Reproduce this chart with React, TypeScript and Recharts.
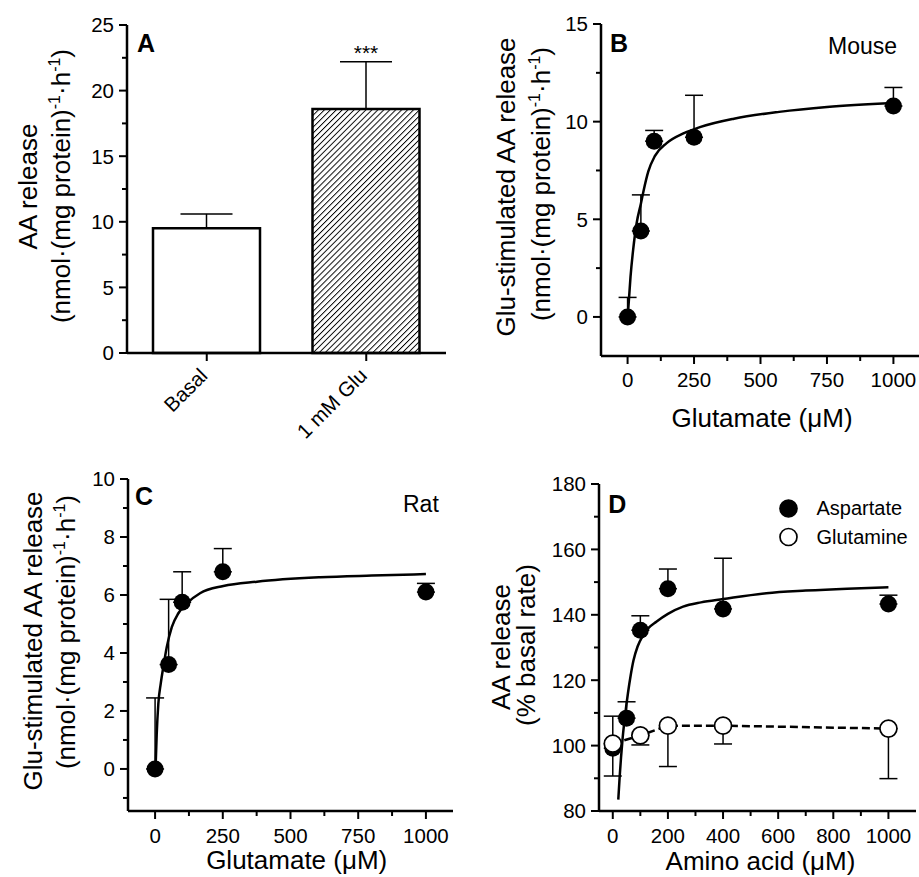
import React from 'react';
import {
  BarChart,
  Bar,
  Cell,
  ComposedChart,
  Line,
  Scatter,
  XAxis,
  YAxis,
  ErrorBar,
  LabelList,
  Legend,
} from 'recharts';

// ---------- A: AA release, basal vs 1 mM glutamate ----------
const groups = ['Basal', '1 mM Glu'];
const releaseMean = [9.5, 18.6];
const releaseSem = [1.1, 3.6];
const releaseSig = ['', '***'];
const releaseTicks = [0, 2.5, 5, 7.5, 10, 12.5, 15, 17.5, 20, 22.5, 25];
const releaseMajor = [0, 5, 10, 15, 20, 25];

// ---------- B: mouse, glutamate dose response ----------
const mouseGlu = [0, 50, 100, 250, 1000];
const mouseRelease = [0, 4.4, 9.0, 9.2, 10.8];
const mouseSem = [1.0, 1.85, 0.55, 2.15, 0.95];
// fitted curve
const mouseFitGlu = [2, 11, 21, 34, 50, 60, 78, 103, 147, 210, 272, 400, 570, 750, 1000];
const mouseFitRelease = [0.3, 2.05, 3.45, 4.8, 5.8, 6.45, 7.45, 8.25, 8.9, 9.4, 9.72, 10.15, 10.5, 10.75, 10.95];
const mouseTicks = [0, 2.5, 5, 7.5, 10, 12.5, 15];
const mouseMajor = [0, 5, 10, 15];

// ---------- C: rat, glutamate dose response ----------
const ratGlu = [0, 50, 100, 250, 1000];
const ratRelease = [0, 3.6, 5.75, 6.8, 6.1];
const ratSem = [2.45, 2.25, 1.05, 0.8, 0.3];
const ratFitGlu = [2, 6, 12, 21, 31, 43, 62, 86, 117, 166, 252, 376, 610, 800, 1000];
const ratFitRelease = [0.1, 1.2, 2.25, 2.95, 3.55, 4.2, 4.9, 5.37, 5.71, 6.06, 6.31, 6.46, 6.61, 6.67, 6.72];
const ratTicks = [-1, 0, 1, 2, 3, 4, 5, 6, 7, 8, 9, 10];
const ratMajor = [0, 2, 4, 6, 8, 10];

const gluTicks = [0, 125, 250, 375, 500, 625, 750, 875, 1000];
const gluMajor = [0, 250, 500, 750, 1000];

// ---------- D: aspartate vs glutamine ----------
const aspConc = [0, 50, 100, 200, 400, 1000];
const aspRelease = [99.2, 108.4, 135.3, 148, 141.8, 143.3];
const aspSem = [9.8, 5.0, 4.4, 6.0, 15.5, 2.7];
const aspFitConc = [20, 25, 30, 36, 45, 55, 65, 75, 90, 109, 130, 158, 200, 255, 320, 400, 557, 700, 850, 1000];
const aspFitRelease = [83.5, 90.5, 96.5, 102.5, 109.5, 116, 121.5, 126, 130.3, 133.6, 136, 137.9, 140.3, 142.5, 143.8, 144.8, 146.6, 147.4, 148, 148.4];
const glnConc = [0, 100, 200, 400, 1000];
const glnRelease = [100.6, 103.1, 106.1, 106.1, 105.2];
const glnSem = [9.9, 2.9, 12.5, 5.6, 15.3];
const aminoTicks = [0, 100, 200, 300, 400, 500, 600, 700, 800, 900, 1000];
const aminoMajor = [0, 200, 400, 600, 800, 1000];
const basalTicks = [80, 90, 100, 110, 120, 130, 140, 150, 160, 170, 180];
const basalMajor = [80, 100, 120, 140, 160, 180];

const FONT = '"Liberation Sans", Arial, Helvetica, sans-serif';
const INK = '#000';
const TICK_FONT = 20.5;
const TITLE_FONT = 26;
const axis = { stroke: INK, strokeWidth: 2.5 };
const barFills = ['#fff', 'url(#hatch)'];

const barData = groups.map((name, i) => ({
  name,
  value: releaseMean[i],
  err: [0, releaseSem[i]],
  sig: releaseSig[i],
}));
const pts = (xs: number[], ys: number[], errs?: number[], down = false) =>
  xs.map((x, i) => ({
    x,
    y: ys[i],
    err: errs ? (down ? [errs[i], 0] : [0, errs[i]]) : undefined,
  }));

const mousePoints = pts(mouseGlu, mouseRelease, mouseSem);
const mouseFit = pts(mouseFitGlu, mouseFitRelease);
const ratPoints = pts(ratGlu, ratRelease, ratSem);
const ratFit = pts(ratFitGlu, ratFitRelease);
const aspPoints = pts(aspConc, aspRelease, aspSem);
const aspFit = pts(aspFitConc, aspFitRelease);
const glnPoints = pts(glnConc, glnRelease, glnSem, true);

function leftTick(axisX: number, majors: number[]) {
  return (p: any) => {
    const v = p.payload.value;
    const major = majors.includes(v);
    return (
      <g>
        <line x1={axisX - (major ? 8 : 5)} x2={axisX} y1={p.y} y2={p.y} stroke={INK} strokeWidth={2} />
        {major && (
          <text x={axisX - 13} y={p.y} dy="0.36em" textAnchor="end" fontSize={TICK_FONT} fontFamily={FONT} fill={INK}>
            {v}
          </text>
        )}
      </g>
    );
  };
}

function bottomTick(axisY: number, majors: number[], labelDy: number) {
  return (p: any) => {
    const v = p.payload.value;
    const major = majors.includes(v);
    return (
      <g>
        <line x1={p.x} x2={p.x} y1={axisY} y2={axisY + (major ? 8 : 5)} stroke={INK} strokeWidth={2} />
        {major && (
          <text x={p.x} y={axisY + labelDy} textAnchor="middle" fontSize={TICK_FONT} fontFamily={FONT} fill={INK}>
            {v}
          </text>
        )}
      </g>
    );
  };
}

function slantTick(axisY: number) {
  return (p: any) => {
    const ax = p.x + 2;
    const ay = axisY + 24;
    return (
      <g>
        <line x1={p.x} x2={p.x} y1={axisY} y2={axisY + 8} stroke={INK} strokeWidth={2} />
        <text x={ax} y={ay} transform={`rotate(-45 ${ax} ${ay})`} textAnchor="end" fontSize={TICK_FONT} fontFamily={FONT} fill={INK}>
          {p.payload.value}
        </text>
      </g>
    );
  };
}

function VTitle({ x, cy, children }: { x: number; cy: number; children: React.ReactNode }) {
  return (
    <text x={x} y={cy} transform={`rotate(-90 ${x} ${cy})`} textAnchor="middle" fontSize={TITLE_FONT} fontFamily={FONT} fill={INK}>
      {children}
    </text>
  );
}

function HTitle({ x, y, children }: { x: number; y: number; children: React.ReactNode }) {
  return (
    <text x={x} y={y} textAnchor="middle" fontSize={TITLE_FONT} fontFamily={FONT} fill={INK}>
      {children}
    </text>
  );
}

const rateUnit = (
  <>
    (nmol·(mg protein)
    <tspan dy={-10} fontSize={16}>-1</tspan>
    <tspan dy={10}>·h</tspan>
    <tspan dy={-10} fontSize={16}>-1</tspan>
    <tspan dy={10}>)</tspan>
  </>
);

const tag = (x: number, y: number, s: string, bold = true, size = 25) => (
  <text x={x} y={y} fontSize={size} fontWeight={bold ? 'bold' : 'normal'} fontFamily={FONT} fill={INK}>
    {s}
  </text>
);

const filledDot = (p: any) => <circle cx={p.cx} cy={p.cy} r={8.5} fill={INK} />;
const openDot = (p: any) => <circle cx={p.cx} cy={p.cy} r={8.5} fill="#fff" stroke={INK} strokeWidth={1.7} />;

function DoseLegend(props: any) {
  // only the two scatter series; the fit/dash lines carry legendType "none"
  const items = (props.payload || []).filter((it: any) => it.type !== 'none');
  return (
    <svg width={136} height={56}>
      {items.map((it: any, i: number) => (
        <g key={it.value}>
          <circle cx={10.5} cy={10.5 + i * 28.5} r={8.5} fill={it.color} stroke={INK} strokeWidth={1.7} />
          <text x={38.5} y={17 + i * 28.5} fontSize={20} fontFamily={FONT} fill={INK}>
            {it.value}
          </text>
        </g>
      ))}
    </svg>
  );
}

function Panel({ left, top, children }: { left: number; top: number; children: React.ReactNode }) {
  return <div style={{ position: 'absolute', left, top }}>{children}</div>;
}

export default function App() {
  return (
    <div
      style={{
        position: 'absolute',
        left: 0,
        top: 0,
        width: 919,
        height: 877,
        overflow: 'hidden',
        background: '#fff',
        fontFamily: FONT,
      }}
    >
      <svg width={0} height={0} style={{ position: 'absolute' }}>
        <defs>
          <pattern id="hatch" patternUnits="userSpaceOnUse" width={4.2} height={4.2} patternTransform="rotate(45)">
            <rect width={4.2} height={4.2} fill="#fff" />
            <line x1={0} y1={0} x2={0} y2={4.2} stroke={INK} strokeWidth={1.9} />
          </pattern>
        </defs>
      </svg>

      {/* C */}
      <Panel left={0} top={440}>
        <ComposedChart width={460} height={437} margin={{ top: 39, right: 7, bottom: 0, left: 0 }}>
          <XAxis
            dataKey="x"
            type="number"
            domain={[-100, 1100]}
            ticks={gluTicks}
            interval={0}
            height={66}
            axisLine={axis}
            tickLine={false}
            tick={bottomTick(371, gluMajor, 32)}
            label={{ content: () => <HTitle x={296.7} y={429}>Glutamate (μM)</HTitle> }}
          />
          <XAxis xAxisId="frame" type="number" domain={[-100, 1100]} orientation="top" height={0} tick={false} tickLine={false} axisLine={axis} />
          <YAxis
            type="number"
            domain={[-1.45, 10]}
            ticks={ratTicks}
            interval={0}
            width={128}
            axisLine={axis}
            tickLine={false}
            tick={leftTick(128, ratMajor)}
            label={{
              content: () => (
                <g>
                  <VTitle x={42} cy={201}>Glu-stimulated AA release</VTitle>
                  <VTitle x={75} cy={192}>{rateUnit}</VTitle>
                </g>
              ),
            }}
          />
          <YAxis yAxisId="frame" orientation="right" domain={[-1.45, 10]} width={0} tick={false} tickLine={false} axisLine={axis} />
          <Line data={ratFit} dataKey="y" type="monotone" dot={false} activeDot={false} stroke={INK} strokeWidth={2.5} isAnimationActive={false} legendType="none" />
          <Scatter data={ratPoints} dataKey="y" shape={filledDot} isAnimationActive={false}>
            <ErrorBar dataKey="err" direction="y" width={9} stroke={INK} strokeWidth={1.5} />
          </Scatter>
          {tag(135, 65, 'C')}
          {tag(403, 71.7, 'Rat', false, 23)}
        </ComposedChart>
      </Panel>

      {/* A (drawn after C so its slanted labels sit on top) */}
      <Panel left={0} top={0}>
        <BarChart width={460} height={470} data={barData} margin={{ top: 25, right: 14, bottom: 0, left: 0 }}>
          <XAxis dataKey="name" height={117} axisLine={axis} tickLine={false} tick={slantTick(353)} interval={0} />
          <XAxis xAxisId="frame" dataKey="name" orientation="top" height={0} tick={false} tickLine={false} axisLine={axis} />
          <YAxis
            type="number"
            domain={[0, 25]}
            ticks={releaseTicks}
            interval={0}
            width={127}
            axisLine={axis}
            tickLine={false}
            tick={leftTick(127, releaseMajor)}
            label={{
              content: () => (
                <g>
                  <VTitle x={37} cy={186.5}>AA release</VTitle>
                  <VTitle x={70} cy={186}>{rateUnit}</VTitle>
                </g>
              ),
            }}
          />
          <YAxis yAxisId="frame" orientation="right" domain={[0, 25]} width={0} tick={false} tickLine={false} axisLine={axis} />
          <Bar dataKey="value" barSize={107} stroke={INK} strokeWidth={2.5} isAnimationActive={false}>
            {barData.map((d, i) => (
              <Cell key={d.name} fill={barFills[i]} />
            ))}
            <ErrorBar dataKey="err" direction="y" width={26} stroke={INK} strokeWidth={1.5} />
            <LabelList
              dataKey="sig"
              content={(p: any) =>
                p.value ? (
                  <text x={p.x + p.width / 2} y={p.y - 49} textAnchor="middle" fontSize={21} fontFamily={FONT} fill={INK}>
                    {p.value}
                  </text>
                ) : null
              }
            />
          </Bar>
          {tag(137, 51.7, 'A')}
        </BarChart>
      </Panel>

      {/* B */}
      <Panel left={460} top={0}>
        <ComposedChart width={462} height={440} margin={{ top: 24, right: 2, bottom: 0, left: 0 }}>
          <XAxis
            dataKey="x"
            type="number"
            domain={[-100, 1100]}
            ticks={gluTicks}
            interval={0}
            height={84}
            axisLine={axis}
            tickLine={false}
            tick={bottomTick(356, gluMajor, 31)}
            label={{ content: () => <HTitle x={302} y={426.7}>Glutamate (μM)</HTitle> }}
          />
          <XAxis xAxisId="frame" type="number" domain={[-100, 1100]} orientation="top" height={0} tick={false} tickLine={false} axisLine={axis} />
          <YAxis
            type="number"
            domain={[-2, 15]}
            ticks={mouseTicks}
            interval={0}
            width={141}
            axisLine={axis}
            tickLine={false}
            tick={leftTick(141, mouseMajor)}
            label={{
              content: () => (
                <g>
                  <VTitle x={55} cy={187}>Glu-stimulated AA release</VTitle>
                  <VTitle x={90} cy={184}>{rateUnit}</VTitle>
                </g>
              ),
            }}
          />
          <YAxis yAxisId="frame" orientation="right" domain={[-2, 15]} width={0} tick={false} tickLine={false} axisLine={axis} />
          <Line data={mouseFit} dataKey="y" type="monotone" dot={false} activeDot={false} stroke={INK} strokeWidth={2.5} isAnimationActive={false} legendType="none" />
          <Scatter data={mousePoints} dataKey="y" shape={filledDot} isAnimationActive={false}>
            <ErrorBar dataKey="err" direction="y" width={9} stroke={INK} strokeWidth={1.5} />
          </Scatter>
          {tag(150, 51.7, 'B')}
          {tag(368, 53.5, 'Mouse', false, 23)}
        </ComposedChart>
      </Panel>

      {/* D */}
      <Panel left={460} top={440}>
        <ComposedChart width={459} height={437} margin={{ top: 44, right: 3, bottom: 0, left: 0 }}>
          <XAxis
            dataKey="x"
            type="number"
            domain={[-50, 1100]}
            ticks={aminoTicks}
            interval={0}
            height={66}
            axisLine={axis}
            tickLine={false}
            tick={bottomTick(371, aminoMajor, 32)}
            label={{ content: () => <HTitle x={300.5} y={430}>Amino acid (μM)</HTitle> }}
          />
          <XAxis xAxisId="frame" type="number" domain={[-50, 1100]} orientation="top" height={0} tick={false} tickLine={false} axisLine={axis} />
          <YAxis
            type="number"
            domain={[80, 180]}
            ticks={basalTicks}
            interval={0}
            width={139}
            axisLine={axis}
            tickLine={false}
            tick={leftTick(139, basalMajor)}
            label={{
              content: () => (
                <g>
                  <VTitle x={50} cy={207}>AA release</VTitle>
                  <VTitle x={75} cy={205}>(% basal rate)</VTitle>
                </g>
              ),
            }}
          />
          <YAxis yAxisId="frame" orientation="right" domain={[80, 180]} width={0} tick={false} tickLine={false} axisLine={axis} />
          <Line data={aspFit} dataKey="y" type="monotone" dot={false} activeDot={false} stroke={INK} strokeWidth={2.5} isAnimationActive={false} legendType="none" />
          <Line data={glnPoints} dataKey="y" type="linear" dot={false} activeDot={false} stroke={INK} strokeWidth={2.5} strokeDasharray="8 4" isAnimationActive={false} legendType="none" />
          <Scatter name="Aspartate" data={aspPoints} dataKey="y" fill={INK} shape={filledDot} isAnimationActive={false}>
            <ErrorBar dataKey="err" direction="y" width={9} stroke={INK} strokeWidth={1.5} />
          </Scatter>
          <Scatter name="Glutamine" data={glnPoints} dataKey="y" fill="#fff" shape={openDot} isAnimationActive={false}>
            <ErrorBar dataKey="err" direction="y" width={9} stroke={INK} strokeWidth={1.5} />
          </Scatter>
          <Legend
            layout="vertical"
            align="center"
            verticalAlign="middle"
            wrapperStyle={{ left: 318, top: 58, width: 136, height: 56 }}
            content={DoseLegend}
          />
          {tag(148.3, 73.3, 'D')}
        </ComposedChart>
      </Panel>
    </div>
  );
}
